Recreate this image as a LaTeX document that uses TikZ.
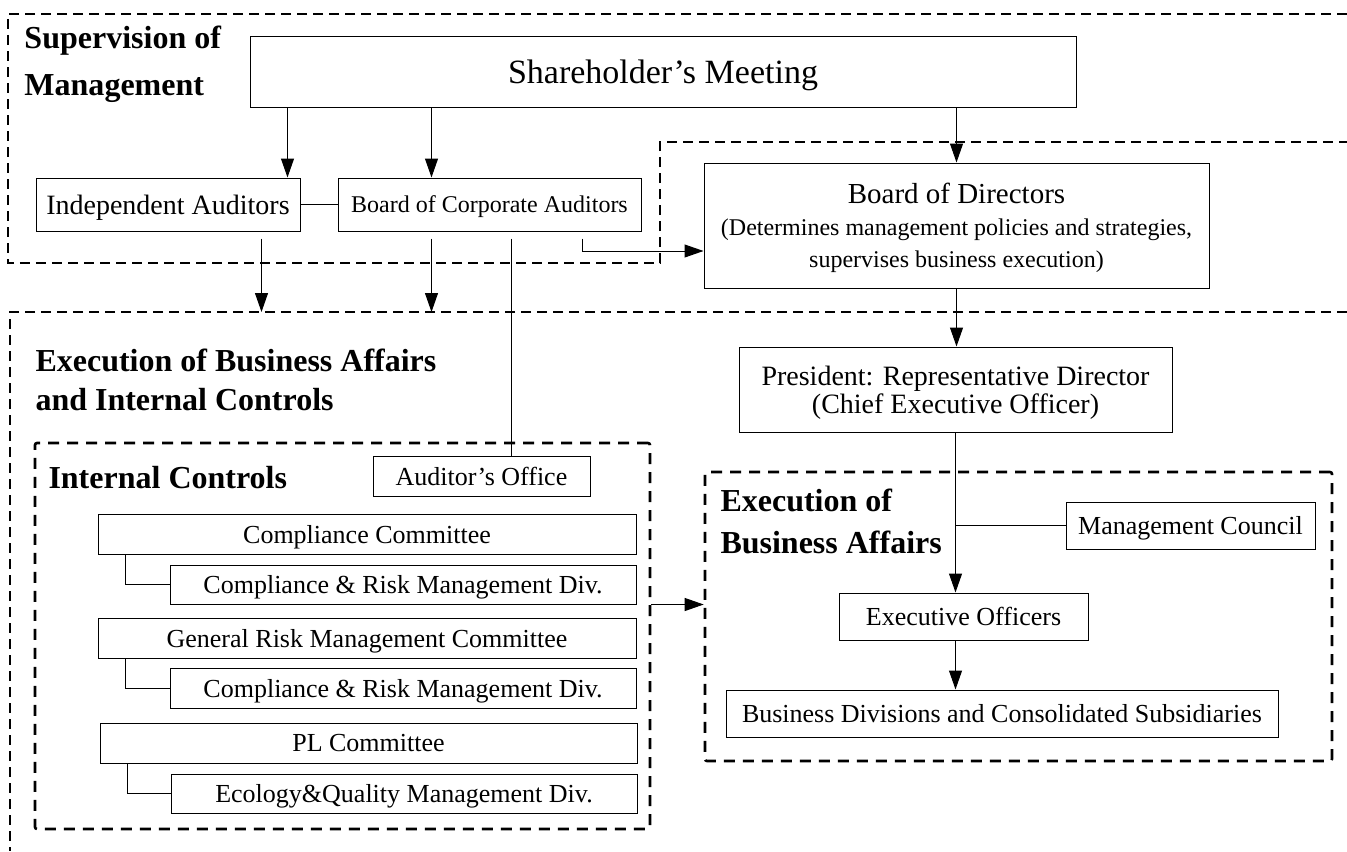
\documentclass[tikz,border=0pt]{standalone}
\usepackage{fontspec}
\setmainfont{Liberation Serif}
\usetikzlibrary{arrows.meta}
\begin{document}
\begin{tikzpicture}[x=0.5pt,y=-0.5pt,line width=0.5pt,>={Triangle[length=9.5pt,width=6.5pt]},
 org/.style={draw,inner sep=0pt,text depth=0pt,font=\fontsize{13}{15.6}\selectfont},
 dsh/.style={line width=0.6pt,dash pattern=on 5pt off 3pt},
 dshb/.style={draw,line width=1.3pt,rounded corners=1pt,dash pattern=on 5.5pt off 4pt,inner sep=0pt},
 lbl/.style={anchor=base west,inner sep=0pt,font=\fontsize{16}{19}\selectfont\bfseries}]
\useasboundingbox (0,0) rectangle (1347,851);
\draw[dsh] (1347,14) -| (8,263) -| (660,142) -- (1347,142);
\coordinate (top2) at (10,312);
\draw[dsh] (1347,312) -- (top2) -- (10,851);
\node[dshb,minimum width=307.5pt,minimum height=193pt] (ic) at (342.5,636) {};
\node[dshb,minimum width=313.5pt,minimum height=144.5pt] (eb) at (1018.5,616.5) {};
\node[lbl] (l1) at (24,48) {Supervision of};
\node[lbl] (l2) at (24,95) {Management};
\node[lbl] (l3) at (35,371) {Execution of Business Affairs};
\node[lbl] (l4) at (35,410) {and Internal Controls};
\node[lbl] (l5) at (48,488) {Internal Controls};
\node[lbl] (l6) at (720,511) {Execution of};
\node[lbl] (l7) at (720,553) {Business Affairs};
\node[org,minimum width=413pt,minimum height=35.5pt,font=\fontsize{17}{20}\selectfont] (sm) at (663,71.5) {Shareholder's Meeting};
\node[org,minimum width=132pt,minimum height=26.5pt,font=\fontsize{14}{16}\selectfont] (ia) at (168,204.5) {Independent Auditors};
\node[org,minimum width=151.5pt,minimum height=26.5pt,font=\fontsize{12}{14}\selectfont] (bca) at (489.5,204.5) {Board of Corporate Auditors};
\node[org,minimum width=252.5pt,minimum height=62.5pt,align=center,font=\fontsize{12}{16}\selectfont] (bd) at (956.5,225.5)
 {{\fontsize{14.5}{16}\selectfont Board of Directors}\\(Determines management policies and strategies,\\supervises business execution)};
\node[org,minimum width=216.5pt,minimum height=42.5pt,align=center,font=\fontsize{14}{14}\selectfont] (pr) at (955.5,389.5)
 {President: Representative Director\\(Chief Executive Officer)};
\node[org,minimum width=108.5pt,minimum height=20pt] (ao) at (481.5,476) {Auditor's Office};
\node[org,minimum width=269pt,minimum height=20pt] (cc) at (367,534) {Compliance Committee};
\node[org,minimum width=233pt,minimum height=19.5pt] (cd1) at (403,584.5) {Compliance \& Risk Management Div.};
\node[org,minimum width=269pt,minimum height=20pt] (grc) at (367,638) {General Risk Management Committee};
\node[org,minimum width=233pt,minimum height=20pt] (cd2) at (403,688) {Compliance \& Risk Management Div.};
\node[org,minimum width=268.5pt,minimum height=20pt] (plc) at (368.5,743) {PL Committee};
\node[org,minimum width=233pt,minimum height=19.5pt] (eq) at (404,793.5) {Ecology\&Quality Management Div.};
\node[org,minimum width=124.5pt,minimum height=23.5pt] (mc) at (1190.5,525.5) {Management Council};
\node[org,minimum width=124.5pt,minimum height=23.5pt] (eo) at (963.5,616.5) {Executive Officers};
\node[org,minimum width=276pt,minimum height=23.5pt] (bdv) at (1002,713.5) {Business Divisions and Consolidated Subsidiaries};
\draw[->] ([xshift=-6.5pt]sm.south -| ia.north east) -- ([xshift=-6.5pt]ia.north east);
\draw[->] ([xshift=47pt]sm.south -| bca.north west) -- ([xshift=47pt]bca.north west);
\draw[->] (sm.south -| bd.north) -- (bd.north);
\draw (ia) -- (bca);
\draw[->] ([xshift=113pt,yshift=-3.5pt]ia.south west) -- ([xshift=113pt]ia.south west |- top2);
\draw[->] ([xshift=47pt,yshift=-3.5pt]bca.south west) -- ([xshift=47pt]bca.south west |- top2);
\draw ([xshift=87pt,yshift=-3.5pt]bca.south west) -- ([xshift=87pt]bca.south west |- ao.north);
\draw[->] ([xshift=122.5pt,yshift=-3.5pt]bca.south west) |- ([yshift=-12.75pt]bd.west);
\draw[->] (bd.south) -- (bd.south |- pr.north);
\draw[->] (pr.south) -- (pr.south |- eo.north);
\draw (mc.west) -- (mc.west -| pr.south);
\draw[->] (eo.south -| pr.south) -- (bdv.north -| pr.south);
\draw[->] (ic.east |- cd1.south) -- (eb.west |- cd1.south);
\draw ([xshift=14pt]cc.south west) |- (cd1.west);
\draw ([xshift=14pt]grc.south west) |- (cd2.west);
\draw ([xshift=14pt]plc.south west) |- (eq.west);
\end{tikzpicture}
\end{document}
